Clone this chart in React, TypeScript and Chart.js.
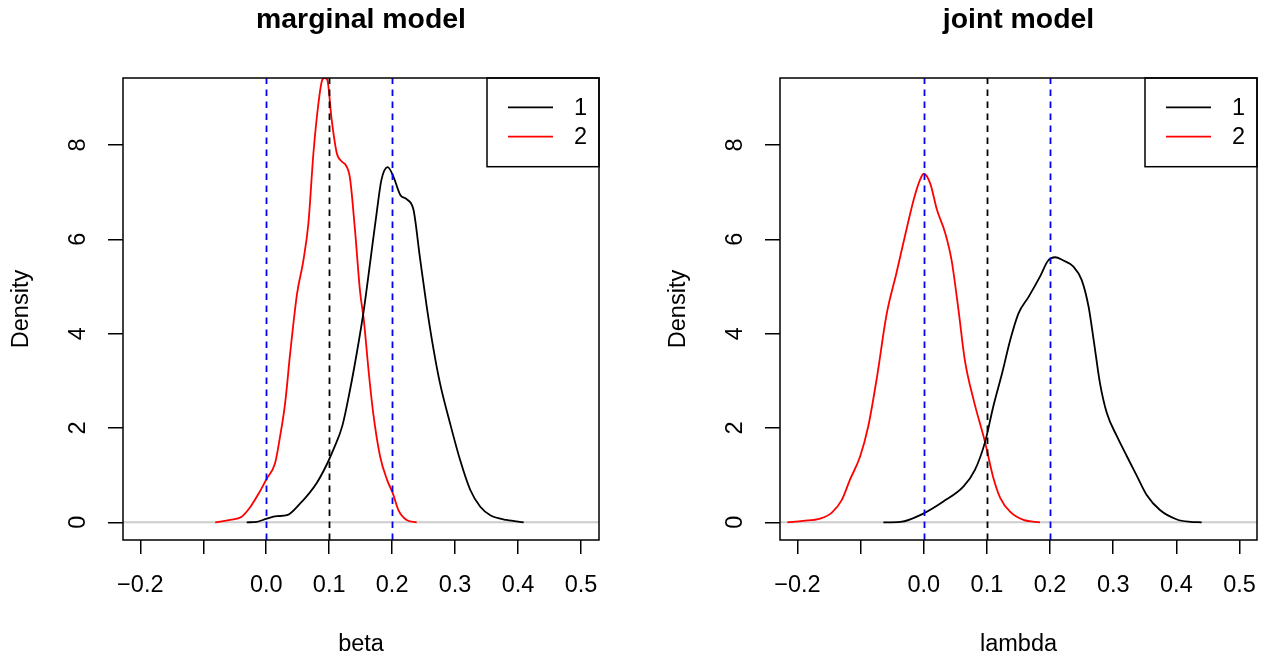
import React, { useEffect, useRef } from "react";
import { Chart, registerables } from "chart.js";

Chart.register(...registerables);

const FONT = '"Liberation Sans", Arial, Helvetica, sans-serif';

// ---- axes ----
const xTickValues = [-0.2, -0.1, 0.0, 0.1, 0.2, 0.3, 0.4, 0.5];
const xTickLabels = ["\u22120.2", "", "0.0", "0.1", "0.2", "0.3", "0.4", "0.5"];
const yTickValues = [0, 2, 4, 6, 8];
const yTickLabels = ["0", "2", "4", "6", "8"];
const yRange = [-0.375, 9.42];

// ---- legend / reference lines ----
const legendLabels = ["1", "2"];
const seriesColors = ["#000000", "#FF0000"];
const blueRefLines = [0.0, 0.2];
const blackRefLines = [0.1];

// ---- marginal model (beta) ----
const marginalXRange = [-0.2275, 0.5286];
const marginal1X = [-0.031, -0.015, 0.001, 0.017, 0.033, 0.054, 0.080, 0.096, 0.107, 0.121, 0.133, 0.144, 0.155, 0.165, 0.176, 0.183, 0.193, 0.202, 0.213, 0.223, 0.234, 0.244, 0.255, 0.266, 0.276, 0.292, 0.308, 0.324, 0.340, 0.356, 0.382, 0.409];
const marginal1Y = [0, 0.01, 0.08, 0.13, 0.15, 0.40, 0.83, 1.22, 1.55, 2.05, 2.80, 3.60, 4.50, 5.50, 6.62, 7.26, 7.53, 7.33, 6.94, 6.85, 6.62, 5.63, 4.57, 3.65, 2.95, 2.10, 1.32, 0.69, 0.33, 0.15, 0.05, 0];
const marginal2X = [-0.081, -0.057, -0.039, -0.025, -0.012, 0.001, 0.014, 0.022, 0.030, 0.038, 0.049, 0.059, 0.067, 0.075, 0.083, 0.089, 0.093, 0.097, 0.104, 0.112, 0.120, 0.126, 0.133, 0.141, 0.149, 0.155, 0.163, 0.170, 0.181, 0.192, 0.201, 0.210, 0.223, 0.239];
const marginal2Y = [0, 0.05, 0.12, 0.33, 0.61, 0.93, 1.25, 1.82, 2.52, 3.58, 4.85, 5.55, 6.34, 7.83, 8.89, 9.38, 9.42, 9.38, 8.53, 7.83, 7.65, 7.58, 7.30, 6.2, 4.9, 4.29, 3.16, 2.31, 1.39, 0.90, 0.62, 0.26, 0.05, 0];

// ---- joint model (lambda) ----
const jointXRange = [-0.2277, 0.5277];
const joint1X = [-0.064, -0.037, 0.0, 0.031, 0.063, 0.081, 0.097, 0.110, 0.124, 0.137, 0.150, 0.166, 0.184, 0.197, 0.208, 0.221, 0.237, 0.250, 0.261, 0.269, 0.279, 0.290, 0.306, 0.322, 0.338, 0.353, 0.374, 0.401, 0.422, 0.44];
const joint1Y = [0, 0.01, 0.19, 0.44, 0.76, 1.11, 1.70, 2.45, 3.16, 3.87, 4.43, 4.78, 5.21, 5.55, 5.62, 5.55, 5.42, 5.14, 4.57, 3.87, 2.95, 2.31, 1.82, 1.39, 0.97, 0.58, 0.26, 0.06, 0.01, 0];
const joint2X = [-0.216, -0.191, -0.164, -0.146, -0.130, -0.117, -0.101, -0.088, -0.074, -0.059, -0.043, -0.030, -0.016, -0.006, 0.0, 0.010, 0.021, 0.034, 0.044, 0.055, 0.065, 0.079, 0.097, 0.110, 0.121, 0.137, 0.158, 0.184];
const joint2Y = [0, 0.03, 0.08, 0.20, 0.47, 0.90, 1.39, 2.03, 3.09, 4.40, 5.30, 6.06, 6.84, 7.26, 7.39, 7.19, 6.62, 6.13, 5.56, 4.50, 3.44, 2.59, 1.70, 0.95, 0.52, 0.22, 0.05, 0];

const panels = [
  {
    title: "marginal model", xLabel: "beta", xRange: marginalXRange,
    s1x: marginal1X, s1y: marginal1Y, s2x: marginal2X, s2y: marginal2Y,
    left: 0, width: 632, padRight: 33, yAxisWidth: 123,
  },
  {
    title: "joint model", xLabel: "lambda", xRange: jointXRange,
    s1x: joint1X, s1y: joint1Y, s2x: joint2X, s2y: joint2Y,
    left: 632, width: 633, padRight: 8, yAxisWidth: 148,
  },
];

const zip = (xs: number[], ys: number[]) => xs.map((x, i) => ({ x, y: ys[i] }));

function makePlugin(p: any) {
  return {
    id: "rbase",
    beforeDatasetsDraw(chart: any) {
      const { ctx, chartArea: a, scales } = chart;
      const y0 = scales.y.getPixelForValue(0);
      ctx.save();
      ctx.strokeStyle = "#CCCCCC";
      ctx.lineWidth = 2;
      ctx.beginPath();
      ctx.moveTo(a.left, y0);
      ctx.lineTo(a.right, y0);
      ctx.stroke();
      ctx.restore();
    },
    afterDatasetsDraw(chart: any) {
      const { ctx, chartArea: a, scales } = chart;
      const xs = scales.x;
      const ys = scales.y;
      // reference lines
      ctx.save();
      ctx.beginPath();
      ctx.rect(a.left, a.top, a.right - a.left, a.bottom - a.top);
      ctx.clip();
      ctx.setLineDash([6.5, 5.5]);
      ctx.lineWidth = 1.8;
      const vline = (v: number, color: string) => {
        const px = Math.round(xs.getPixelForValue(v)) + 0.5;
        ctx.strokeStyle = color;
        ctx.beginPath();
        ctx.moveTo(px, a.bottom);
        ctx.lineTo(px, a.top);
        ctx.stroke();
      };
      blackRefLines.forEach((v) => vline(v, "#000000"));
      blueRefLines.forEach((v) => vline(v, "#0000FF"));
      ctx.restore();

      // box
      ctx.save();
      ctx.strokeStyle = "#000";
      ctx.lineWidth = 1.5;
      ctx.strokeRect(a.left, a.top, a.right - a.left, a.bottom - a.top);

      // legend
      const lw = 112, lh = 88.7;
      ctx.strokeRect(a.right - lw, a.top, lw, lh);
      ctx.font = `23.5px ${FONT}`;
      ctx.textBaseline = "middle";
      ctx.textAlign = "left";
      chart.data.datasets.forEach((ds: any, i: number) => {
        const ly = a.top + 29.3 + i * 29.4;
        ctx.strokeStyle = ds.borderColor;
        ctx.lineWidth = 1.8;
        ctx.beginPath();
        ctx.moveTo(a.right - 91, ly);
        ctx.lineTo(a.right - 46, ly);
        ctx.stroke();
        ctx.fillStyle = "#000";
        ctx.fillText(ds.label, a.right - 25, ly + 1);
      });

      // y tick labels (rotated as in R)
      ctx.fillStyle = "#000";
      ctx.font = `23.5px ${FONT}`;
      ctx.textAlign = "center";
      ctx.textBaseline = "alphabetic";
      yTickValues.forEach((v, i) => {
        const py = ys.getPixelForValue(v);
        ctx.save();
        ctx.translate(a.left - 38, py);
        ctx.rotate(-Math.PI / 2);
        ctx.fillText(yTickLabels[i], 0, 0);
        ctx.restore();
      });

      // y axis title
      ctx.save();
      ctx.translate(a.left - 95, (a.top + a.bottom) / 2);
      ctx.rotate(-Math.PI / 2);
      ctx.fillText("Density", 0, 0);
      ctx.restore();

      // x axis title
      ctx.fillText(p.xLabel, (a.left + a.right) / 2, 651);

      // main title
      ctx.font = `bold 28.4px ${FONT}`;
      ctx.fillText(p.title, (a.left + a.right) / 2, 28);
      ctx.restore();
    },
  };
}

function Panel({ p }: { p: any }) {
  const ref = useRef<HTMLCanvasElement>(null);
  useEffect(() => {
    const chart = new Chart(ref.current as HTMLCanvasElement, {
      type: "line",
      data: {
        datasets: [
          {
            label: legendLabels[0],
            data: zip(p.s1x, p.s1y),
            borderColor: seriesColors[0],
            borderWidth: 1.8,
            pointRadius: 0,
            cubicInterpolationMode: "monotone",
            fill: false,
          },
          {
            label: legendLabels[1],
            data: zip(p.s2x, p.s2y),
            borderColor: seriesColors[1],
            borderWidth: 1.8,
            pointRadius: 0,
            cubicInterpolationMode: "monotone",
            fill: false,
          },
        ],
      } as any,
      options: {
        responsive: false,
        animation: false,
        devicePixelRatio: 1,
        layout: { padding: { top: 78, right: p.padRight, left: 0, bottom: 0 } },
        plugins: {
          legend: { display: false },
          tooltip: { enabled: false },
          title: { display: false },
        },
        scales: {
          x: {
            type: "linear",
            min: p.xRange[0],
            max: p.xRange[1],
            afterFit: (s: any) => {
              s.height = 116;
              s.paddingLeft = 0;
              s.paddingRight = 0;
              s.paddingTop = 0;
              s.paddingBottom = 0;
            },
            afterBuildTicks: (s: any) => { s.ticks = xTickValues.map((v) => ({ value: v })); },
            ticks: {
              callback: (_v: any, i: number) => xTickLabels[i],
              font: { family: FONT, size: 23.5 },
              color: "#000",
              padding: 17,
              maxRotation: 0,
              autoSkip: false,
            },
            grid: { drawOnChartArea: false, drawTicks: true, tickLength: 14, color: "#000", lineWidth: 1.5 },
            border: { display: false },
          },
          y: {
            type: "linear",
            min: yRange[0],
            max: yRange[1],
            afterFit: (s: any) => {
              s.width = p.yAxisWidth;
              s.paddingTop = 0;
              s.paddingBottom = 0;
              s.paddingLeft = 0;
              s.paddingRight = 0;
            },
            afterBuildTicks: (s: any) => { s.ticks = yTickValues.map((v) => ({ value: v })); },
            ticks: { display: false },
            grid: { drawOnChartArea: false, drawTicks: true, tickLength: 15, color: "#000", lineWidth: 1.5 },
            border: { display: false },
          },
        },
      } as any,
      plugins: [makePlugin(p)],
    });
    return () => chart.destroy();
  }, []);
  return (
    <canvas
      ref={ref}
      width={p.width}
      height={656}
      style={{ position: "absolute", left: p.left, top: 0, width: p.width, height: 656 }}
    />
  );
}

export default function App() {
  return (
    <div style={{ position: "absolute", left: 0, top: 0, width: 1265, height: 656, background: "#fff" }}>
      {panels.map((p) => (
        <Panel key={p.title} p={p} />
      ))}
    </div>
  );
}
